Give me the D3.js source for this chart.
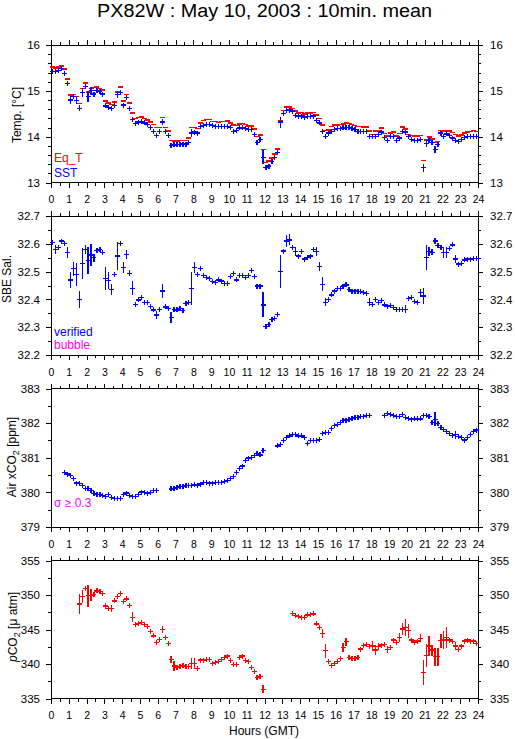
<!DOCTYPE html>
<html><head><meta charset="utf-8">
<script src="https://cdn.jsdelivr.net/npm/d3@7"></script>
<style>
body{margin:0;background:#fff}
svg{display:block}
text{font-family:"Liberation Sans",Arial,Helvetica,sans-serif;fill:#000}
</style>
</head><body>
<svg id="c" width="515" height="739"></svg>
<script>
// ---------------- DATA (10-minute means, index i -> hour (i+0.5)/6) ----------------
const hourTicks = [0,1,2,3,4,5,6,7,8,9,10,11,12,13,14,15,16,17,18,19,20,21,22,23,24];
const tempTicks = [13,14,15,16];
const salTicks  = [32.2,32.3,32.4,32.5,32.6,32.7];
const airTicks  = [379,380,381,382,383];
const pco2Ticks = [335,340,345,350,355];

const sst = [
15.43,15.42,15.45,15.48,15.38,15.16, 14.80,14.87,14.79,14.62,14.97,15.10,
14.87,15.00,14.93,15.00,14.98,14.93, 14.67,14.63,14.62,14.68,14.92,14.97,
14.69,14.85,14.62,14.38,14.28,14.32, 14.33,14.30,14.27,14.20,14.12,14.02,
14.12,14.32,14.12,14.02,13.80,13.82, 13.83,13.83,13.84,13.84,13.87,14.08,
14.10,14.08,14.22,14.25,14.26,14.26, 14.24,14.23,14.22,14.22,14.23,14.23,
14.20,14.12,14.13,14.19,14.20,14.17, 14.15,14.15,14.04,13.88,13.93,13.55,
13.32,13.36,13.45,13.54,13.65,14.32, 14.50,14.57,14.58,14.56,14.47,14.44,
14.45,14.41,14.44,14.44,14.45,14.36, 14.30,14.12,14.00,14.08,14.12,14.15,
14.17,14.18,14.19,14.20,14.20,14.18, 14.15,14.12,14.12,14.11,14.12,14.00,
14.00,14.00,14.05,14.10,13.98,13.92, 14.00,14.00,13.92,13.97,14.12,14.10,
14.00,13.93,13.92,13.92,13.94,13.32, 13.85,13.92,13.87,13.72,13.83,14.08,
14.00,14.06,14.02,13.97,13.92,13.90, 13.93,13.99,14.00,14.00,14.01,14.00];
const sstErr = [[0.92,0.05],[1.08,0.08],[1.25,0.04],[1.42,0.07],[1.58,0.07],[1.75,0.1],[1.92,0.03],
[2.08,0.12],[2.25,0.08],[3.08,0.05],[3.25,0.04],[3.42,0.03],[3.75,0.08],[3.92,0.05],[4.08,0.05],
[4.25,0.03],[4.58,0.06],[6.08,0.04],[6.25,0.06],[6.75,0.03],[7.92,0.08],[8.08,0.04],[11.42,0.04],
[11.92,0.15],[12.08,0.03],[12.75,0.05],[12.92,0.12],[15.25,0.05],[17.92,0.04],[18.08,0.04],
[18.25,0.06],[18.42,0.05],[18.75,0.03],[19.42,0.03],[19.92,0.04],[20.75,0.04],[20.92,0.08],
[21.08,0.08],[21.25,0.05],[21.58,0.08],[21.75,0.05],[22.08,0.05],[22.25,0.04]];

const eqT = [
15.52,15.50,15.52,15.54,15.48,15.26, 14.91,14.92,14.88,14.72,15.05,15.17,
14.98,15.05,15.07,15.08,15.05,15.02, 14.78,14.73,14.70,14.76,14.98,15.08,
14.78,14.92,14.73,14.52,14.40,14.42, 14.43,14.40,14.36,14.32,14.27,14.20,
14.20,14.42,14.20,14.12,13.92,13.91, 13.91,13.92,13.92,13.92,13.97,14.20,
14.20,14.18,14.30,14.35,14.37,14.37, 14.33,14.33,14.31,14.33,14.33,14.34,
14.30,14.25,14.24,14.28,14.29,14.27, 14.23,14.23,14.17,14.00,14.04,13.72,
13.44,13.47,13.53,13.62,13.73,14.34, 14.57,14.65,14.65,14.62,14.56,14.52,
14.53,14.50,14.52,14.52,14.53,14.47, 14.40,14.25,14.14,14.15,14.22,14.25,
14.26,14.27,14.28,14.30,14.29,14.27, 14.24,14.22,14.22,14.21,14.21,14.12,
14.05,14.12,14.12,14.19,14.07,14.02, 14.08,14.10,14.02,14.07,14.21,14.17,
14.05,14.03,14.02,14.02,14.03,13.48, 13.93,13.99,13.95,13.87,13.90,14.13,
14.12,14.14,14.12,14.09,14.05,14.02, 14.04,14.08,14.10,14.11,14.13,14.11];
const eqTErr = [];

const sal = [
32.605,32.58,32.586,32.61,32.60,32.57, 32.47,32.51,32.49,32.40,32.53,32.58,
32.54,32.56,32.55,32.575,32.58,32.57, 32.475,32.467,32.436,32.49,32.556,32.60,
32.514,32.562,32.494,32.44,32.383,32.398, 32.406,32.39,32.39,32.374,32.362,32.344,
32.365,32.43,32.373,32.368,32.334,32.364, 32.362,32.368,32.36,32.386,32.39,32.44,
32.514,32.49,32.51,32.485,32.478,32.476, 32.464,32.46,32.47,32.466,32.458,32.456,
32.482,32.494,32.47,32.485,32.485,32.478, 32.485,32.503,32.482,32.448,32.448,32.38,
32.302,32.31,32.328,32.332,32.346,32.50, 32.574,32.61,32.614,32.586,32.572,32.556,
32.572,32.545,32.55,32.556,32.58,32.572, 32.518,32.455,32.39,32.40,32.416,32.43,
32.44,32.44,32.448,32.452,32.436,32.43, 32.43,32.428,32.428,32.425,32.42,32.39,
32.382,32.40,32.39,32.396,32.38,32.376, 32.377,32.372,32.364,32.364,32.364,32.365,
32.404,32.407,32.392,32.388,32.424,32.412, 32.551,32.572,32.57,32.61,32.593,32.587,
32.568,32.568,32.584,32.596,32.545,32.527, 32.53,32.542,32.545,32.545,32.548,32.548];
const salErr = [[0.25,0.015],[0.92,0.02],[1.08,0.03],[1.25,0.025],[1.42,0.04],[1.58,0.03],[1.75,0.055],
[1.92,0.015],[2.08,0.05],[2.25,0.04],[2.42,0.015],[3.08,0.04],[3.25,0.03],[3.42,0.02],[3.58,0.01],
[3.75,0.05],[4.08,0.02],[4.25,0.015],[4.42,0.01],[4.58,0.025],[5.92,0.015],[6.25,0.025],[6.75,0.02],
[7.92,0.06],[8.08,0.02],[11.92,0.045],[12.75,0.01],[12.92,0.06],[13.25,0.02],[13.42,0.02],[13.75,0.015],
[14.75,0.01],[14.92,0.015],[15.08,0.015],[15.25,0.025],[15.42,0.015],[17.92,0.015],[19.92,0.015],
[20.75,0.015],[20.92,0.03],[21.08,0.045],[21.25,0.015],[21.42,0.01],[21.58,0.01],[22.08,0.02],
[22.25,0.02],[22.75,0.015]];

const airCO2 = [
null,null,null,null,380.58,380.53, 380.48,380.39,380.27,380.25,380.19,380.12,
380.12,380.06,379.96,379.93,379.93,379.90, 379.87,379.93,379.86,379.83,379.83,379.83,
379.93,379.98,379.92,379.88,379.88,379.93, 380.01,379.99,379.96,380.00,380.05,380.05,
null,null,null,null,380.10,380.12, 380.14,380.16,380.18,380.20,380.19,380.20,
380.22,380.19,380.24,380.29,380.29,380.27, 380.27,380.28,380.28,380.29,380.31,380.34,
380.39,380.45,380.57,380.70,380.76,380.91, 380.99,381.01,381.06,381.13,381.08,381.20,
null,null,null,null,381.34,381.39, 381.50,381.58,381.63,381.66,381.68,381.63,
381.63,381.58,381.42,381.49,381.50,381.50, 381.53,381.69,381.72,381.72,381.85,381.94,
381.96,382.02,382.08,382.09,382.11,382.14, 382.16,382.17,382.18,382.20,382.22,382.23,
null,null,null,null,382.23,382.27, 382.25,382.23,382.20,382.20,382.24,382.16,
382.13,382.11,382.12,382.12,382.12,382.23, 382.21,382.18,382.02,382.11,381.99,381.87,
381.82,381.75,381.70,381.64,381.66,381.61, 381.58,381.51,381.58,381.66,381.75,381.80];
const airErr = [[11.92,0.05],[14.42,0.03],[15.25,0.05],[21.58,0.2],[22.75,0.12]];

const pco2 = [
null,null,null,null,null,null, null,null,null,348.70,349.77,350.98,
349.87,349.96,350.11,350.59,350.45,350.25, 348.41,348.03,348.03,349.14,349.77,350.25,
349.04,349.43,348.46,346.77,345.75,345.90, 345.99,345.75,345.41,344.69,344.06,343.14,
343.57,345.02,343.86,342.99,340.71,339.70, 339.46,339.60,339.75,339.60,339.60,340.08,
340.08,339.36,340.57,340.47,340.71,340.71, 340.08,340.23,340.33,340.71,340.91,341.15,
340.47,339.94,339.94,340.91,341.15,340.47, 340.42,339.46,338.87,338.10,338.15,336.36,
null,null,null,null,null,null, null,null,null,347.35,347.01,346.86,
346.77,346.72,347.11,347.20,347.25,345.80, 345.27,344.44,341.93,340.42,339.84,340.08,
340.42,340.81,342.41,343.23,340.91,340.81, 340.76,340.96,342.17,342.65,342.85,342.51,
342.60,342.02,342.51,342.75,342.85,342.12, 342.41,343.47,343.14,343.86,345.07,345.27,
344.83,343.47,343.18,343.33,343.72,338.78, 341.20,342.60,342.02,341.05,341.05,343.38,
343.47,343.86,343.47,343.23,342.60,342.12, 342.60,343.33,343.47,343.33,343.33,342.99];
const pco2Err = [[1.58,1.5],[1.75,0.9],[2.08,1.6],[2.25,0.9],[3.08,0.5],[3.42,0.5],[3.75,0.4],
[4.58,0.7],[6.25,0.5],[6.42,0.4],[6.58,0.4],[6.75,0.5],[6.92,0.7],[7.92,0.8],[8.08,0.8],[11.92,0.6],
[15.08,0.3],[15.25,0.6],[15.42,1.0],[16.42,0.6],[16.58,0.6],[17.42,0.3],[18.08,0.7],[18.25,0.7],
[18.42,0.5],[18.92,0.5],[19.58,0.6],[19.75,0.8],[19.92,1.2],[20.08,1.0],[20.75,0.6],[20.92,1.8],
[21.08,1.7],[21.25,1.4],[21.42,0.8],[21.58,1.3],[21.75,1.3],[21.92,1.0],[22.08,1.3],[22.25,1.5],
[22.75,0.6],[22.92,0.3]];

// ---------------- DRAWING ----------------
const svg = d3.select('#c');
const times = d3.range(144).map(i => (i + 0.5) / 6);
const x = d3.scaleLinear().domain([0, 24]).range([51, 478]);

const layout = [
  {top: 45,    bottom: 182.5},
  {top: 216,   bottom: 355},
  {top: 388.5, bottom: 527},
  {top: 560.5, bottom: 698.5}
];

function styleAxis(g, size) {
  g.attr('font-size', null).attr('font-family', null);
  g.select('.domain').remove();
  g.selectAll('line').attr('stroke', '#000').attr('shape-rendering', 'crispEdges');
  g.selectAll('text').style('font-size', size + 'px').attr('fill', '#000');
}

function makePanel(idx, domain, majors, minorStep, fmt, opts) {
  const L = layout[idx];
  const y = d3.scaleLinear().domain(domain).range([L.bottom, L.top]);
  const g = svg.append('g');
  const minors = d3.range(domain[0], domain[1] + minorStep / 2, minorStep)
    .filter(v => !majors.some(m => Math.abs(m - v) < 1e-6));
  const halfHours = d3.range(0.5, 24, 1);

  g.append('g').attr('transform', `translate(${x(0)},0)`)
    .call(d3.axisLeft(y).tickValues(majors).tickSize(5).tickPadding(6).tickFormat(fmt).tickSizeOuter(0))
    .call(a => styleAxis(a, 11.5));
  g.append('g').attr('transform', `translate(${x(0)},0)`)
    .call(d3.axisLeft(y).tickValues(minors).tickSize(3).tickFormat('').tickSizeOuter(0))
    .call(a => styleAxis(a, 11.5));
  g.append('g').attr('transform', `translate(${x(24)},0)`)
    .call(d3.axisRight(y).tickValues(majors).tickSize(5).tickPadding(7).tickFormat(fmt).tickSizeOuter(0))
    .call(a => styleAxis(a, 11.5));
  g.append('g').attr('transform', `translate(${x(24)},0)`)
    .call(d3.axisRight(y).tickValues(minors).tickSize(3).tickFormat('').tickSizeOuter(0))
    .call(a => styleAxis(a, 11.5));

  g.append('g').attr('transform', `translate(0,${L.top})`)
    .call(d3.axisTop(x).tickValues(hourTicks).tickSize(5).tickPadding(8)
      .tickFormat(opts.topLabels ? d3.format('d') : '').tickSizeOuter(0))
    .call(a => styleAxis(a, 10.5));
  g.append('g').attr('transform', `translate(0,${L.top})`)
    .call(d3.axisTop(x).tickValues(halfHours).tickSize(3).tickFormat('').tickSizeOuter(0))
    .call(a => styleAxis(a, 10.5));
  g.append('g').attr('transform', `translate(0,${L.bottom})`)
    .call(d3.axisBottom(x).tickValues(hourTicks).tickSize(5).tickPadding(8)
      .tickFormat(opts.bottomLabels ? d3.format('d') : '').tickSizeOuter(0))
    .call(a => styleAxis(a, 10.5));
  g.append('g').attr('transform', `translate(0,${L.bottom})`)
    .call(d3.axisBottom(x).tickValues(halfHours).tickSize(3).tickFormat('').tickSizeOuter(0))
    .call(a => styleAxis(a, 10.5));

  g.append('rect').attr('x', x(0)).attr('y', L.top)
    .attr('width', x(24) - x(0)).attr('height', L.bottom - L.top)
    .attr('fill', 'none').attr('stroke', '#000').attr('shape-rendering', 'crispEdges');
  return {g, y, L};
}

function drawMarks(p, vals, errs, color, halfW, minHalfH, sw) {
  const errMap = new Map(errs.map(([h, e]) => [Math.round(h * 6 - 0.5), e]));
  const pts = times.map((t, i) => ({t, v: vals[i], e: errMap.get(i) || 0}))
    .filter(d => d.v != null);
  const mg = p.g.append('g').attr('stroke', color).attr('stroke-width', sw)
    .attr('shape-rendering', 'crispEdges');
  mg.selectAll('line.h').data(pts).join('line').attr('class', 'h')
    .attr('x1', d => x(d.t) - halfW).attr('x2', d => x(d.t) + halfW)
    .attr('y1', d => p.y(d.v)).attr('y2', d => p.y(d.v));
  mg.selectAll('line.v').data(pts.filter(d => minHalfH > 0 || d.e > 0)).join('line').attr('class', 'v')
    .attr('x1', d => x(d.t)).attr('x2', d => x(d.t))
    .attr('y1', d => Math.min(p.y(d.v + d.e), p.y(d.v) - minHalfH))
    .attr('y2', d => Math.max(p.y(d.v - d.e), p.y(d.v) + minHalfH));
}

function yTitle(p, cx, parts) {
  const t = svg.append('text')
    .attr('transform', `translate(${cx},${p.cy}) rotate(-90)`)
    .attr('text-anchor', 'middle').attr('dy', '0.35em').style('font-size', '12px');
  parts.forEach(pt => {
    const s = t.append('tspan').text(pt.t);
    if (pt.sub) s.attr('dy', 3).style('font-size', '9px');
    if (pt.after) s.attr('dy', -3);
    if (pt.it) s.style('font-style', 'italic');
  });
}

svg.append('text').attr('x', 264.5).attr('y', 17).attr('text-anchor', 'middle')
  .attr('textLength', 335).attr('lengthAdjust', 'spacingAndGlyphs')
  .style('font-size', '18px').text('PX82W : May 10, 2003 : 10min. mean');

// Panel 1 : temperature
const p1 = makePanel(0, [13, 16], tempTicks, 0.2, d3.format('d'), {bottomLabels: true});
drawMarks(p1, eqT, eqTErr, '#ff0000', 2.5, 0, 1.5);
drawMarks(p1, sst, sstErr, '#0000ff', 2.5, 2.5, 1.2);
p1.cy = 115;
yTitle(p1, 17, [{t: 'Temp. [°C]'}]);
svg.append('text').attr('x', 54).attr('y', 162).style('font-size', '12px').style('fill', '#ff0000').text('Eq_T');
svg.append('text').attr('x', 54).attr('y', 177).style('font-size', '12px').style('fill', '#0000ff').text('SST');

// Panel 2 : salinity
const p2 = makePanel(1, [32.2, 32.7], salTicks, 0.05, d3.format('.1f'), {});
drawMarks(p2, sal, salErr, '#0000ff', 2.5, 2.5, 1.2);
p2.cy = 279;
yTitle(p2, 7, [{t: 'SBE Sal.'}]);
svg.append('text').attr('x', 54).attr('y', 336).style('font-size', '12px').style('fill', '#0000ff').text('verified');
svg.append('text').attr('x', 54).attr('y', 349).style('font-size', '12px').style('fill', '#ff00ff').text('bubble');

// Panel 3 : air xCO2
const p3 = makePanel(2, [379, 383], airTicks, 0.5, d3.format('d'), {topLabels: true});
drawMarks(p3, airCO2, airErr, '#0000ff', 2.5, 2.5, 1.2);
p3.cy = 457;
yTitle(p3, 12, [{t: 'Air xCO'}, {t: '2', sub: true}, {t: ' [ppm]', after: true}]);
svg.append('text').attr('x', 54).attr('y', 507).style('font-size', '12px').style('fill', '#ff00ff').text('σ ≥ 0.3');

// Panel 4 : pCO2
const p4 = makePanel(3, [335, 355], pco2Ticks, 2.5, d3.format('d'), {topLabels: true, bottomLabels: true});
drawMarks(p4, pco2, pco2Err, '#ff0000', 2.5, 2.5, 1.2);
p4.cy = 627;
yTitle(p4, 12.5, [{t: 'p', it: true}, {t: 'CO'}, {t: '2', sub: true}, {t: ' [μ atm]', after: true}]);

svg.append('text').attr('x', 264).attr('y', 735).attr('text-anchor', 'middle')
  .style('font-size', '12px').text('Hours (GMT)');
</script>
</body></html>
